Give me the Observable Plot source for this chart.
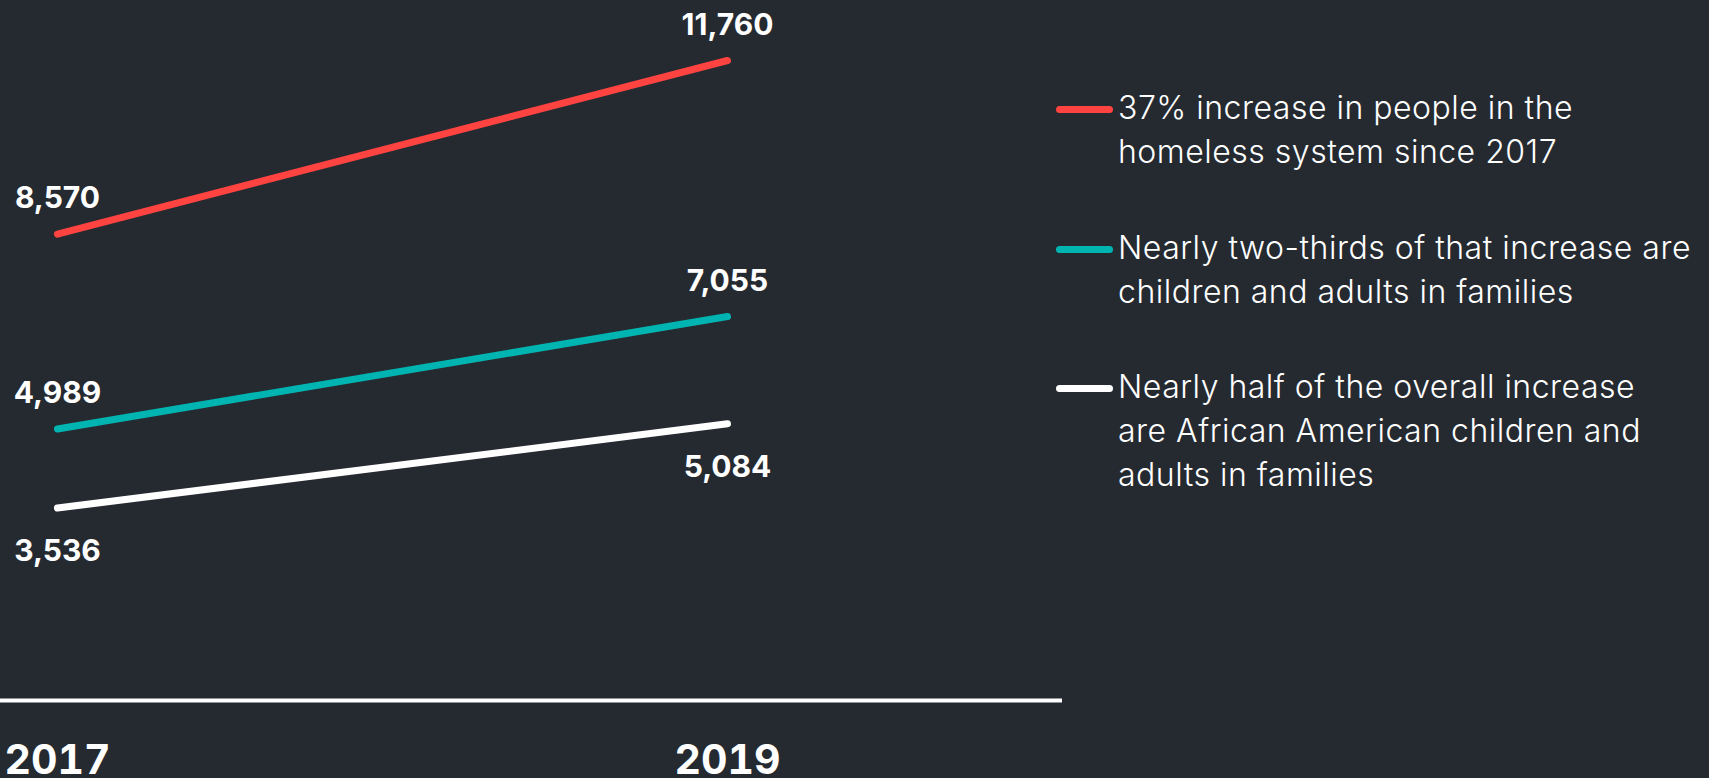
<!DOCTYPE html>
<html>
<head>
<meta charset="utf-8">
<script src="https://cdn.jsdelivr.net/npm/d3@7"></script>
<script src="https://cdn.jsdelivr.net/npm/@observablehq/plot@0.6"></script>
<style>
  html, body { margin: 0; padding: 0; background: #252a31; }
  #wrap { position: relative; width: 1709px; height: 778px; overflow: hidden; background: #252a31; }
  #chart { position: absolute; left: 0; top: 0; }
  #legend { position: absolute; left: 1056px; top: 86px; font-family: Inter, Roboto, sans-serif; font-weight: 300; font-size: 32px; letter-spacing: 0.5px; line-height: 44px; color: #ffffff; }
  .entry { display: flex; align-items: flex-start; margin-bottom: 51.5px; }
  .swatch { flex: none; width: 57px; height: 7px; border-radius: 3.5px; margin-top: 20px; margin-right: 5px; }
  .label { white-space: nowrap; }
</style>
</head>
<body>
<div id="wrap">
  <div id="chart"></div>
  <div id="legend"></div>
</div>
<script>
// ---- data ----
const years = [2017, 2019];
const seriesNames = [
  "37% increase in people in the\nhomeless system since 2017",
  "Nearly two-thirds of that increase are\nchildren and adults in families",
  "Nearly half of the overall increase\nare African American children and\nadults in families"
];
const totalHomeless = [8570, 11760];
const familiesHomeless = [4989, 7055];
const africanAmericanFamiliesHomeless = [3536, 5084];
const seriesColors = ["#ff4340", "#00b5b1", "#ffffff"];

// ---- build table ----
const seriesValues = [totalHomeless, familiesHomeless, africanAmericanFamiliesHomeless];
const rows = [];
seriesNames.forEach((name, s) => {
  years.forEach((year, i) => rows.push({series: name, year, value: seriesValues[s][i], idx: s}));
});
const fmt = d3.format(",");
const above = rows.filter(d => d.idx < 2);
const below = rows.filter(d => d.idx === 2);

const plot = Plot.plot({
  width: 1062,
  height: 778,
  marginTop: 60,
  marginBottom: 78,
  marginLeft: 0,
  marginRight: 0,
  style: {background: "transparent", color: "#ffffff", fontFamily: "Inter, Roboto, sans-serif"},
  x: {domain: [2016.83, 2020], ticks: years, tickFormat: d => String(d), tickSize: 0, tickPadding: 44, label: null},
  y: {domain: [0, 11760], axis: null},
  color: {domain: seriesNames, range: seriesColors},
  marks: [
    Plot.ruleY([0], {stroke: "#ffffff", strokeWidth: 4}),
    Plot.line(rows, {x: "year", y: "value", z: "series", stroke: "series", strokeWidth: 7, strokeLinecap: "round"}),
    Plot.text(above, {x: "year", y: "value", text: d => fmt(d.value), dy: -26, lineAnchor: "bottom", fill: "#ffffff", fontSize: 30, fontWeight: 700}),
    Plot.text(below, {x: "year", y: "value", text: d => fmt(d.value), dy: 32, lineAnchor: "top", fill: "#ffffff", fontSize: 30, fontWeight: 700})
  ]
});
// style x-axis tick labels
d3.select(plot).selectAll("g[aria-label='x-axis tick label'] text, g[aria-label='x-axis tick label']")
  .attr("font-size", 41).attr("font-weight", 700);
document.getElementById("chart").appendChild(plot);

// ---- legend ----
const legend = document.getElementById("legend");
seriesNames.forEach((name, i) => {
  const e = document.createElement("div");
  e.className = "entry";
  const sw = document.createElement("span");
  sw.className = "swatch";
  sw.style.background = seriesColors[i];
  const lab = document.createElement("span");
  lab.className = "label";
  lab.innerHTML = name.split("\n").join("<br>");
  e.appendChild(sw);
  e.appendChild(lab);
  legend.appendChild(e);
});
</script>
</body>
</html>
